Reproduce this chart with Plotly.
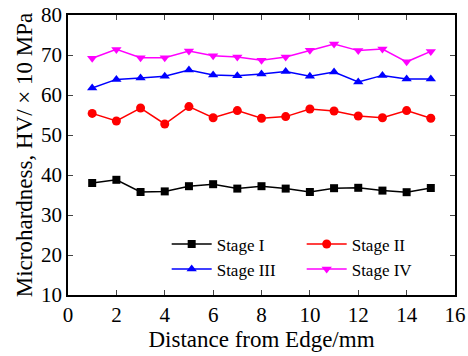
import plotly.graph_objects as go

distance = list(range(1, 16))
stage1 = [38.0, 38.8, 35.75, 35.9, 37.2, 37.7, 36.6, 37.2, 36.6, 35.75, 36.7, 36.8, 36.1, 35.7, 36.75]
stage2 = [55.4, 53.5, 56.75, 52.75, 57.1, 54.3, 56.1, 54.2, 54.6, 56.5, 56.0, 54.75, 54.3, 56.1, 54.2]
stage3 = [61.75, 63.9, 64.25, 64.7, 66.25, 65.0, 64.8, 65.25, 65.9, 64.7, 65.75, 63.25, 64.9, 64.0, 64.0]
stage4 = [69.2, 71.4, 69.3, 69.3, 71.0, 69.8, 69.5, 68.7, 69.5, 71.2, 72.75, 71.1, 71.5, 68.3, 70.9]

names = ["Stage I", "Stage II", "Stage III", "Stage IV"]
colors = ["#000000", "#ff0000", "#0000ff", "#ff00ff"]
symbols = ["square", "circle", "triangle-up", "triangle-down"]
sizes = [8, 9, 9, 9]

fig = go.Figure()
for name, ys, c, s, sz in zip(names, [stage1, stage2, stage3, stage4], colors, symbols, sizes):
    fig.add_trace(go.Scatter(x=distance, y=ys, name=name, mode="lines+markers",
                             line=dict(color=c, width=1.5),
                             marker=dict(color=c, symbol=s, size=sz)))

font = "Liberation Serif"
fig.update_layout(
    width=468, height=356,
    margin=dict(l=68, r=13, t=15, b=61, autoexpand=False),
    paper_bgcolor="white", plot_bgcolor="white",
    font=dict(family=font, size=18, color="black"),
    showlegend=True,
    legend=dict(orientation="h", x=0.255, y=0.245, xanchor="left", yanchor="top",
                entrywidth=80, entrywidthmode="pixels",
                font=dict(size=17, family=font), bgcolor="rgba(0,0,0,0)",
                tracegroupgap=0, itemwidth=40),
)
fig.update_xaxes(range=[0, 16], dtick=2, ticks="inside", ticklen=5, mirror="ticks",
                 showline=True, linecolor="black", linewidth=1.5, showgrid=False, zeroline=False,
                 title=dict(text="Distance from Edge/mm", font=dict(size=23, family=font), standoff=4),
                 tickfont=dict(size=21, family=font))
fig.update_yaxes(range=[10, 80], dtick=10, ticks="inside", ticklen=5, mirror="ticks",
                 showline=True, linecolor="black", linewidth=1.5, showgrid=False, zeroline=False,
                 title=dict(text="Microhardness, HV/ × 10 MPa", font=dict(size=23, family=font), standoff=2),
                 tickfont=dict(size=21, family=font))

fig.write_html("out.html", config={"displayModeBar": False},
               post_script="document.body.style.margin='0';")
